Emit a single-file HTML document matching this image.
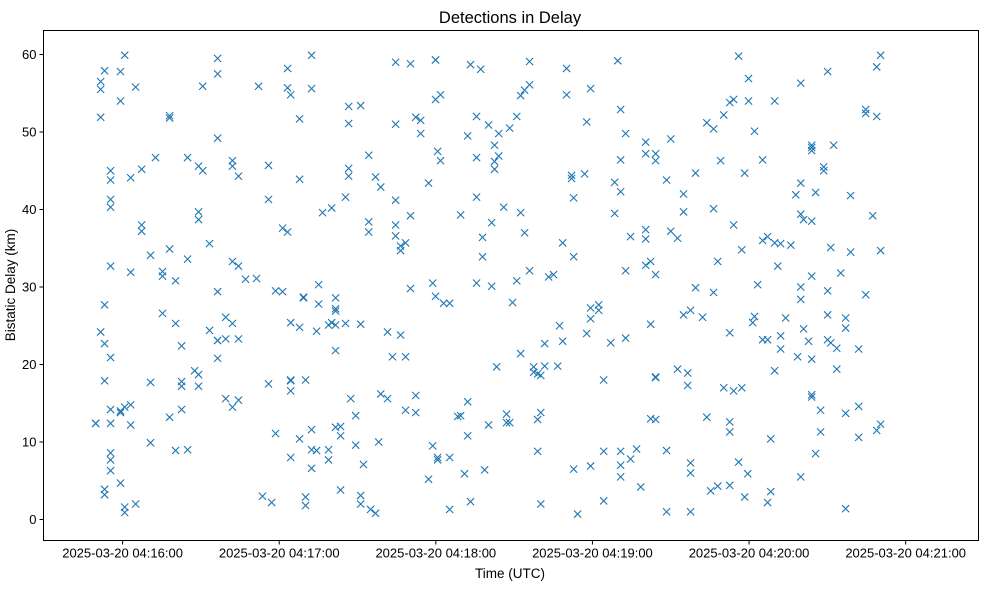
<!DOCTYPE html>
<html><head><meta charset="utf-8"><style>
body{margin:0;background:#fff;}
svg{display:block;font-family:"Liberation Sans","DejaVu Sans",sans-serif;}
</style></head><body>
<svg id="chart" width="988" height="590" xmlns="http://www.w3.org/2000/svg">
<rect x="0" y="0" width="988" height="590" fill="#fff"/>
<text x="510" y="23" font-size="16.5" text-anchor="middle" fill="#000">Detections in Delay</text>
<g id="marks"></g>
<g id="axes"></g>
<rect x="43.5" y="30.5" width="935" height="510" fill="none" stroke="#000" stroke-width="1"/>
<text x="510" y="578" font-size="13.5" text-anchor="middle">Time (UTC)</text>
<text x="15" y="285" font-size="13.5" text-anchor="middle" transform="rotate(-90 15 285)">Bistatic Delay (km)</text>
</svg>
<script>
// seconds after 2025-03-20 04:16:00 UTC for each column of detections
const sampleTimes = [-10.3,-8.4,-6.9,-4.6,-0.8,0.8,3.1,5.0,7.3,10.7,12.6,15.3,18.0,20.3,22.6,24.9,27.6,29.1,30.7,33.3,36.4,39.5,42.1,44.4,47.1,51.3,52.1,53.6,55.9,57.1,58.6,61.3,63.2,64.4,67.8,69.3,70.1,72.4,74.3,75.1,76.6,78.9,80.1,81.6,83.5,85.4,86.6,87.4,89.3,91.2,92.3,94.3,95.0,96.9,98.1,98.9,101.5,103.4,104.6,106.5,108.4,110.3,112.3,114.2,117.2,118.8,119.9,120.7,121.8,123.0,125.3,128.4,129.5,131.0,132.2,133.3,135.6,137.2,137.9,138.7,140.2,141.4,142.5,143.3,144.1,146.0,147.1,148.3,149.4,151.0,152.5,154.0,155.9,157.5,159.0,160.2,161.7,163.2,165.1,166.7,167.4,168.6,170.1,172.0,172.8,174.3,177.0,177.8,179.3,182.4,184.3,187.0,188.5,189.7,190.8,192.7,194.6,196.9,198.5,200.4,202.3,204.2,208.4,210.0,212.6,214.9,216.5,217.6,219.5,222.2,223.8,225.3,226.4,228.0,229.1,230.3,232.6,234.1,236.0,237.2,238.3,239.5,239.8,241.4,242.1,243.3,245.2,247.1,248.3,249.8,251.0,252.1,254.0,256.0,257.9,258.6,259.8,260.9,262.8,264.0,265.5,267.4,268.6,270.1,271.3,272.4,273.6,275.1,277.0,278.9,282.0,284.7,287.4,288.9,290.4];
// bistatic delays (km) detected at each time column
const sampleDelays = [[12.4,12.4],[24.2,56.5,55.5,51.9],[57.9,27.7,3.9,3.2,17.9,22.7],[20.9,8.6,7.7,6.3,45.0,43.8,32.7,41.3,40.3,14.2,12.4],[57.8,54.0,4.7,14.0,13.8],[59.9,1.6,14.5,0.9],[31.9,44.1,14.8,12.2],[55.8,2.0],[45.2,38.0,37.2],[34.1,9.9,17.7],[46.7],[26.6,31.4,32.0],[52.1,51.8,34.9,13.2],[8.9,30.8,25.3],[14.2,17.2,17.8,22.4],[9.0,33.6,46.7],[19.2],[45.6,39.7,38.7,18.7,17.2],[55.9,45.0],[35.6,24.4],[20.8,23.1,23.1,59.5,57.5,49.2,29.4],[15.6,23.3,26.1],[46.3,45.6,33.3,25.3,14.5],[44.3,32.7,23.3,15.4],[31.0],[31.1],[55.9],[3.0],[45.7,41.3,17.5],[2.2],[11.1,29.5],[37.6,29.4],[37.1,55.7,58.2],[25.4,18.0,17.9,16.6,8.0,54.8],[10.4,24.8,43.9,51.7],[28.7,28.6],[18.0,1.8,2.9],[59.9,55.6,11.6,9.0,6.6],[8.9,24.3],[30.3,27.8],[39.6],[25.1,9.0,7.7],[25.4,40.2],[28.6,27.2,26.9,25.1,21.8,11.9],[12.0,10.8,3.8],[41.6,25.3],[53.3,51.1,45.3,44.3],[15.6],[13.4,9.6],[53.4,25.2,3.1,2.0],[7.1],[47.0,37.1,38.4],[1.3],[44.2,0.8],[10.0],[16.2,42.9],[24.2,15.6],[21.0],[59.0,51.0,41.2,38.0,36.6],[23.8,34.7,35.3],[21.0,14.1,35.7],[58.8,39.2,29.8],[51.9,13.8,16.0],[49.8,51.5],[43.4,5.2],[30.5,9.5],[54.2,59.3,59.3,28.8],[47.5,7.7,8.0],[54.8,46.3],[27.9],[27.9,8.0,1.3],[13.3],[39.3,13.4],[5.9],[10.8,49.5,15.2],[58.7,2.3],[30.5,52.0,41.6,46.7],[58.1],[33.9,36.4],[6.4],[50.9,12.2],[30.1,38.3],[48.3,45.2,46.2],[19.7],[46.9,49.8],[40.3],[13.6,12.5],[12.5,50.5],[28.0],[30.8,52.0],[21.4,54.7,39.6],[37.0,55.4],[59.1,32.1,56.1],[19.7,19.0],[8.8,12.9,18.8],[13.8,18.6,2.0],[19.8,22.7],[31.3],[31.6],[19.8],[25.0],[35.7,23.0],[58.2,54.8],[44.4,44.0],[41.5,33.9,6.5],[0.7],[44.6],[51.3,24.0],[27.3,55.6,25.9,6.9],[27.7,27.0],[2.4,18.0,8.8],[22.8],[43.5,39.5],[59.2],[52.9,46.4,42.3,8.8,7.0,5.5],[23.4,49.8,32.1],[36.5,7.8],[9.1],[4.2],[48.7,47.2,36.2,37.4,32.8],[13.0,25.2,33.3],[46.3,47.2,31.6,18.4,18.3,12.9],[1.0,43.8,8.9],[37.2,49.1],[19.4,36.3],[42.0,26.4,39.7],[18.9,17.3],[27.0,7.3,6.0,1.0],[44.7,29.9],[26.1],[51.2,13.2],[3.7],[29.3,40.1,50.4],[33.3,4.3],[46.3],[52.2,17.0],[53.8,11.3,12.6,24.1,4.4],[54.2,38.0,16.6],[59.8,7.4],[17.0,34.8],[44.7,2.9],[5.9],[56.9,54.0],[25.4],[50.1,26.2],[30.3],[46.4,23.2,36.0],[36.5,23.2,2.2],[10.4,3.6],[35.7,54.0,19.2],[32.7],[22.0,23.7,35.6],[26.0],[35.4],[41.9],[21.0],[43.4,28.4,30.0,39.4,56.3,5.5],[38.7,24.6],[23.0],[48.0,48.3,47.6,31.4,38.5,20.7,16.1,15.8],[42.2,8.5],[14.1,11.3],[45.5,45.0],[29.5,23.2,26.4,57.8],[22.8,35.1],[48.3],[19.4,22.1],[31.8],[24.7,26.0,1.4,13.7],[34.5,41.8],[14.6,10.6,22.0],[52.4,52.9,29.0],[39.2],[58.4,52.0,11.5],[59.9,12.3,34.7]];
const yTicks = [0,10,20,30,40,50,60];
const xTickSeconds = [0,60,120,180,240,300];
const xTickLabels = ["2025-03-20 04:16:00","2025-03-20 04:17:00","2025-03-20 04:18:00","2025-03-20 04:19:00","2025-03-20 04:20:00","2025-03-20 04:21:00"];

const NS = "http://www.w3.org/2000/svg";
const PL = 43.5, PR = 978.5, PT = 30.5, PB = 540.5;
const X0 = -30.3, X1 = 327.9, Y0 = -2.71, Y1 = 63.1;
function xScale(s){ return PL + (s - X0) / (X1 - X0) * (PR - PL); }
function yScale(v){ return PB - (v - Y0) / (Y1 - Y0) * (PB - PT); }
function mk(tag, attrs){ const e = document.createElementNS(NS, tag); for (const k in attrs) e.setAttribute(k, attrs[k]); return e; }

const marks = document.getElementById('marks');
sampleTimes.forEach((t, i) => {
  (sampleDelays[i] || []).forEach(v => {
    const cx = xScale(t), cy = yScale(v), r = 3.6;
    const p = mk('path', {d:`M${cx-r},${cy-r}L${cx+r},${cy+r}M${cx-r},${cy+r}L${cx+r},${cy-r}`, stroke:'#1f77b4', 'stroke-width':1.1, fill:'none'});
    
    
    marks.appendChild(p);
  });
});

const axes = document.getElementById('axes');
yTicks.forEach(v => {
  const y = yScale(v);
  const l = mk('line', {x1:PL-4, x2:PL, y1:y, y2:y, stroke:'#000', 'stroke-width':1});
  
  
  axes.appendChild(l);
  const t = mk('text', {x:PL-7, y:y+4.5, 'font-size':13, 'text-anchor':'end'});
  t.textContent = v;
  
  
  axes.appendChild(t);
});
xTickSeconds.forEach((s, i) => {
  const x = xScale(s);
  const l = mk('line', {x1:x, x2:x, y1:PB, y2:PB+4, stroke:'#000', 'stroke-width':1});
  
  
  axes.appendChild(l);
  const t = mk('text', {x:x, y:PB+17, 'font-size':13, 'text-anchor':'middle'});
  t.textContent = xTickLabels[i];
  
  
  axes.appendChild(t);
});
</script>
</body></html>
